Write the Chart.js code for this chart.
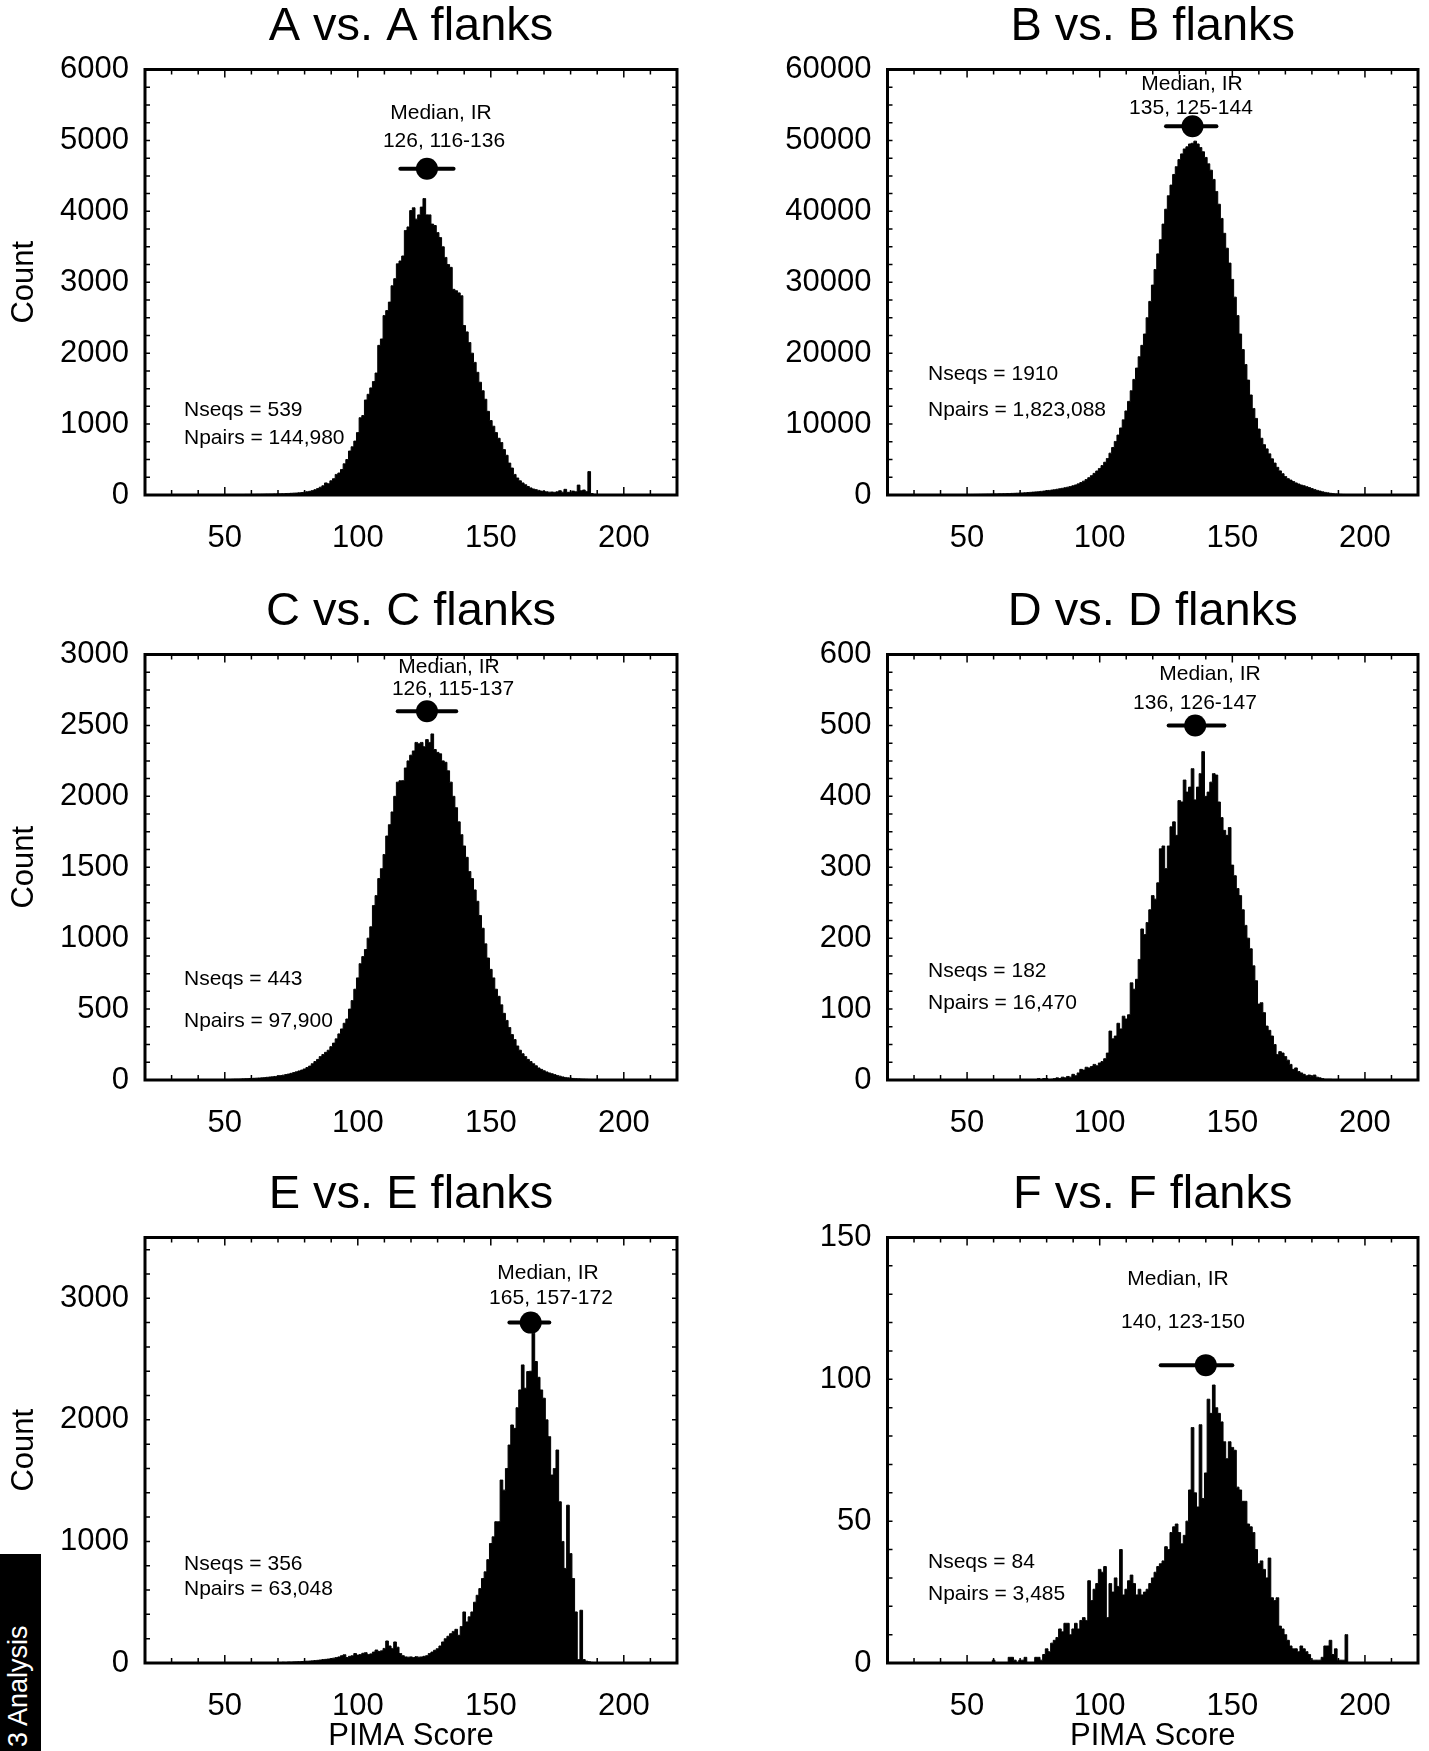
<!DOCTYPE html>
<html>
<head>
<meta charset="utf-8">
<script src="https://cdn.jsdelivr.net/npm/chart.js@4.4.1/dist/chart.umd.min.js"></script>
<style>
  body { margin: 0; background: #fff; width: 1429px; height: 1751px; position: relative; overflow: hidden; }
  canvas { position: absolute; }
  #tab { position: absolute; left: 0; top: 1554px; width: 41px; height: 197px; background: #000; overflow: hidden; }
  #tab span { position: absolute; left: 5px; top: 193px; transform-origin: 0 0; transform: rotate(-90deg);
    color: #fff; font: 27px/27px "Liberation Sans", Arial, sans-serif; white-space: nowrap; }
</style>
</head>
<body>
<canvas id="cA" width="715" height="583" style="left:0;top:1px"></canvas>
<canvas id="cB" width="714" height="583" style="left:715px;top:1px"></canvas>
<canvas id="cC" width="715" height="583" style="left:0;top:586px"></canvas>
<canvas id="cD" width="714" height="583" style="left:715px;top:586px"></canvas>
<canvas id="cE" width="715" height="583" style="left:0;top:1169px"></canvas>
<canvas id="cF" width="714" height="583" style="left:715px;top:1169px"></canvas>
<div id="tab"><span>3 Analysis</span></div>
<script>
// PIMA score bins 40..200, one count per bin
const scoreBins = [];
for (let s = 40; s <= 200; s++) scoreBins.push(s);
const xTicks = [50, 100, 150, 200];

const countsA = [
  0,0,0,1,1,2,2,2,3,3,
  4,4,5,5,6,6,7,7,8,8,
  9,9,10,10,11,12,13,13,14,15,
  16,17,18,20,22,24,26,28,31,34,
  40,46,52,62,75,90,110,130,170,160,
  200,230,290,310,360,440,500,620,680,760,
  880,1090,1120,1340,1420,1510,1600,1720,2110,2200,
  2530,2600,2720,2950,3050,3260,3300,3370,3730,3780,
  4010,4050,3890,3950,4060,4180,3950,3950,3820,3800,
  3700,3630,3500,3350,3250,3210,2900,2880,2850,2810,
  2390,2300,2150,2000,1870,1730,1590,1470,1350,1180,
  1050,970,880,800,740,640,560,450,380,290,
  240,200,170,145,120,100,85,75,65,55,
  50,45,40,42,38,45,60,40,80,38,
  40,55,45,140,60,70,50,330,20,10,
  5,3,2,0,0,0,0,0,0,0,
  0
];
const countsB = [
  20,22,25,28,31,35,39,44,50,56,
  62,68,75,82,90,98,107,116,125,132,
  140,150,160,172,184,197,210,225,240,257,
  275,298,322,348,376,406,438,473,511,552,
  596,644,696,752,812,877,947,1023,1105,1194,
  1300,1420,1570,1750,1950,2180,2440,2730,3050,3380,
  3740,4150,4620,5150,5900,6700,7550,8450,9450,10600,
  11850,13200,14700,16300,17900,19500,21100,22700,25000,27300,
  29600,31800,34000,36000,38200,40300,42200,43700,45200,46300,
  47300,48100,48800,49100,49500,49600,49900,49500,49000,48400,
  47600,46700,45800,44500,42800,41000,39000,36900,34800,32700,
  30400,27900,25300,22700,20500,18400,16200,14100,12200,10800,
  9300,8000,7100,6500,5800,5100,4500,3900,3400,3000,
  2600,2300,2100,1900,1700,1550,1400,1300,1180,1050,
  900,780,650,550,450,370,300,240,190,150,
  120,95,75,60,45,35,25,20,15,10,
  5
];
const countsC = [
  0,0,0,1,1,1,2,2,2,3,
  3,4,4,5,6,6,7,8,9,10,
  11,12,13,14,15,17,19,21,23,25,
  28,31,34,38,42,47,52,58,64,70,
  78,88,98,115,130,145,165,180,195,210,
  235,260,290,325,360,400,430,500,560,640,
  720,820,870,920,1000,1080,1230,1300,1420,1490,
  1590,1720,1800,1890,2000,2100,2110,2110,2200,2250,
  2290,2320,2380,2370,2380,2350,2400,2380,2440,2330,
  2310,2300,2250,2240,2180,2100,2000,1920,1820,1730,
  1650,1570,1470,1420,1340,1260,1160,1070,960,860,
  780,720,640,590,530,470,420,370,320,285,
  240,210,185,165,145,130,115,100,85,75,
  65,57,50,44,38,32,27,22,18,15,
  13,11,9,8,7,6,5,4,3,3,
  2,2,1,1,0,0,0,0,0,0,
  0
];
const countsD = [
  0,0,0,0,0,0,0,0,0,0,
  0,0,0,0,0,0,0,0,0,0,
  0,0,0,0,0,0,0,0,0,0,
  0,0,0,0,0,0,0,2,0,2,
  2,0,1,2,3,2,4,3,5,4,
  8,6,10,15,14,18,17,19,22,20,
  24,26,30,38,69,58,62,80,72,90,
  86,92,137,128,142,170,213,205,222,240,
  260,255,278,326,330,298,330,357,364,345,
  394,392,423,406,413,439,395,413,432,463,
  400,406,420,432,430,392,370,352,345,356,
  303,288,270,260,240,218,200,185,161,140,
  107,109,95,76,70,62,50,36,40,38,
  33,28,22,15,17,12,10,8,6,7,
  5,7,4,3,2,1,1,1,0,0,
  0,0,0,0,0,0,0,0,0,0,
  0
];
const countsE = [
  0,0,0,0,0,0,0,0,0,0,
  0,0,0,0,0,0,0,0,0,0,
  0,0,0,2,0,0,3,0,4,3,
  5,4,6,5,8,7,9,10,11,12,
  14,15,16,18,20,22,25,28,30,33,
  35,40,45,50,60,68,45,55,60,78,
  65,70,80,85,70,75,90,107,95,100,
  120,181,140,120,173,130,78,60,50,48,
  50,45,52,48,50,55,60,78,90,105,
  118,140,173,200,220,241,260,277,228,300,
  420,338,380,420,500,557,612,695,750,850,
  983,1038,1162,1162,1505,1422,1600,1793,1958,1930,
  2100,2246,2452,2260,2397,2400,2713,2480,2350,2246,
  2178,2000,1862,1546,1600,1752,1326,1000,778,1298,
  900,695,420,28,434,28,15,10,5,0,
  0,0,0,0,0,0,0,0,0,0,
  0
];
const countsF = [
  0,0,0,0,0,0,0,0,0,0,
  0,0,0,0,0,0,0,0,0,0,
  1,0,0,0,0,0,2,2,1,0,
  1,1,2,0,0,0,2,2,1,3,
  5,4,7,8,9,12,11,14,14,10,
  12,14,12,15,16,15,29,22,26,28,
  33,32,34,16,28,25,30,27,40,24,
  26,29,31,28,24,26,24,25,26,28,
  30,32,34,35,36,41,40,46,48,49,
  46,42,45,50,61,83,60,55,84,58,
  67,93,88,98,90,88,85,78,72,78,
  76,75,62,61,57,57,49,48,46,40,
  35,36,33,30,37,23,22,23,13,12,
  10,8,6,5,5,4,6,5,4,3,
  1,1,1,1,2,6,6,8,3,5,
  1,1,1,10,0,0,0,0,0,0,
  0
];

const yTicksA = [0, 1000, 2000, 3000, 4000, 5000, 6000];
const yTicksB = [0, 10000, 20000, 30000, 40000, 50000, 60000];
const yTicksC = [0, 500, 1000, 1500, 2000, 2500, 3000];
const yTicksD = [0, 100, 200, 300, 400, 500, 600];
const yTicksE = [0, 1000, 2000, 3000];
const yTicksF = [0, 50, 100, 150];

// median, IR low, IR high
const medianA = [126, 116, 136];
const medianB = [135, 125, 144];
const medianC = [126, 115, 137];
const medianD = [136, 126, 147];
const medianE = [165, 157, 172];
const medianF = [140, 123, 150];

const statsA = ['Nseqs = 539', 'Npairs = 144,980'];
const statsB = ['Nseqs = 1910', 'Npairs = 1,823,088'];
const statsC = ['Nseqs = 443', 'Npairs = 97,900'];
const statsD = ['Nseqs = 182', 'Npairs = 16,470'];
const statsE = ['Nseqs = 356', 'Npairs = 63,048'];
const statsF = ['Nseqs = 84', 'Npairs = 3,485'];

const FONT = '"Liberation Sans", Arial, Helvetica, sans-serif';

const panels = [
  { id: 'cA', title: 'A vs. A flanks', counts: countsA, yMax: 6000, yTicks: yTicksA, yMinor: 250, med: medianA, markY: 4600, stats: statsA,
    left: true, xTitle: false, medText: [[441, 112], [444, 140]], statText: [[184, 409], [184, 437]] },
  { id: 'cB', title: 'B vs. B flanks', counts: countsB, yMax: 60000, yTicks: yTicksB, yMinor: 2500, med: medianB, markY: 52000, stats: statsB,
    left: false, xTitle: false, medText: [[477, 83], [476, 107]], statText: [[213, 373], [213, 409]] },
  { id: 'cC', title: 'C vs. C flanks', counts: countsC, yMax: 3000, yTicks: yTicksC, yMinor: 125, med: medianC, markY: 2600, stats: statsC,
    left: true, xTitle: false, medText: [[449, 81], [453, 103]], statText: [[184, 393], [184, 435]] },
  { id: 'cD', title: 'D vs. D flanks', counts: countsD, yMax: 600, yTicks: yTicksD, yMinor: 25, med: medianD, markY: 500, stats: statsD,
    left: false, xTitle: false, medText: [[495, 88], [480, 117]], statText: [[213, 385], [213, 417]] },
  { id: 'cE', title: 'E vs. E flanks', counts: countsE, yMax: 3500, yTicks: yTicksE, yMinor: 200, med: medianE, markY: 2800, stats: statsE,
    left: true, xTitle: true, medText: [[548, 104], [551, 129]], statText: [[184, 395], [184, 420]] },
  { id: 'cF', title: 'F vs. F flanks', counts: countsF, yMax: 150, yTicks: yTicksF, yMinor: 10, med: medianF, markY: 105, stats: statsF,
    left: false, xTitle: true, medText: [[463, 110], [468, 153]], statText: [[213, 393], [213, 425]] }
];

const decor = {
  id: 'decor',
  afterDraw(chart, args, o) {
    const { ctx, chartArea: a, scales: { x, y } } = chart;
    ctx.save();
    ctx.strokeStyle = '#000';
    ctx.lineWidth = 1.5;
    ctx.beginPath();
    for (let v = 30; v < 220; v += 10) {
      const px = x.getPixelForValue(v);
      const len = v % 50 === 0 ? 8 : 5;
      ctx.moveTo(px, a.bottom); ctx.lineTo(px, a.bottom - len);
      ctx.moveTo(px, a.top); ctx.lineTo(px, a.top + len);
    }
    for (let v = o.yMinor; v < y.max; v += o.yMinor) {
      const py = y.getPixelForValue(v);
      ctx.moveTo(a.left, py); ctx.lineTo(a.left + 5, py);
      ctx.moveTo(a.right, py); ctx.lineTo(a.right - 5, py);
    }
    ctx.stroke();
    ctx.lineWidth = 3;
    ctx.strokeRect(a.left, a.top, a.right - a.left, a.bottom - a.top);

    ctx.fillStyle = '#000';
    ctx.font = '21px ' + FONT;
    ctx.textBaseline = 'middle';
    ctx.textAlign = 'center';
    ctx.fillText('Median, IR', o.medText[0][0], o.medText[0][1]);
    ctx.fillText(o.med[0] + ', ' + o.med[1] + '-' + o.med[2], o.medText[1][0], o.medText[1][1]);
    ctx.textAlign = 'left';
    ctx.fillText(o.stats[0], o.statText[0][0], o.statText[0][1]);
    ctx.fillText(o.stats[1], o.statText[1][0], o.statText[1][1]);
    ctx.restore();
  }
};

panels.forEach(p => {
  new Chart(document.getElementById(p.id), {
    type: 'line',
    data: {
      datasets: [
        {
          data: [{ x: p.med[0], y: p.markY }],
          showLine: false, pointRadius: 11, pointBackgroundColor: '#000', pointBorderWidth: 0
        },
        {
          data: [{ x: p.med[1], y: p.markY }, { x: p.med[2], y: p.markY }],
          borderColor: '#000', borderWidth: 4, borderCapStyle: 'round', pointRadius: 0
        },
        {
          data: scoreBins.map((s, i) => ({ x: s, y: p.counts[i] })),
          stepped: 'middle', fill: 'origin', backgroundColor: '#000',
          borderColor: '#000', borderWidth: 1, pointRadius: 0
        }
      ]
    },
    options: {
      responsive: false,
      animation: false,
      devicePixelRatio: 1,
      layout: { padding: { left: 0, right: p.left ? 38 : 9, top: 0, bottom: 0 } },
      plugins: {
        legend: { display: false },
        tooltip: { enabled: false },
        title: {
          display: true, text: p.title, color: '#000', fullSize: false,
          font: { family: FONT, size: 47, weight: 'normal', lineHeight: 1 },
          padding: { top: 3, bottom: 18.5 }
        },
        decor: p
      },
      scales: {
        x: {
          type: 'linear', min: 20, max: 220,
          grid: { display: false, drawTicks: false },
          border: { display: false },
          afterBuildTicks: s => { s.ticks = xTicks.map(v => ({ value: v })); },
          afterFit: s => { s.height = 89; },
          ticks: { color: '#000', padding: 25, font: { family: FONT, size: 31 }, callback: v => String(v) },
          title: {
            display: p.xTitle, text: 'PIMA Score', color: '#000',
            font: { family: FONT, size: 31, lineHeight: 1 }, padding: { top: 0, bottom: 0.5 }
          }
        },
        y: {
          min: 0, max: p.yMax,
          grid: { display: false, drawTicks: false },
          border: { display: false },
          afterBuildTicks: s => { s.ticks = p.yTicks.map(v => ({ value: v })); },
          afterFit: s => { s.width = p.left ? 145 : 172.5; },
          ticks: { color: '#000', padding: 16, font: { family: FONT, size: 31 }, callback: v => String(v) },
          title: {
            display: p.left, text: 'Count', color: '#000',
            font: { family: FONT, size: 31, lineHeight: 1 }, padding: { top: 8.5, bottom: 0 }
          }
        }
      }
    },
    plugins: [decor]
  });
});
</script>
</body>
</html>
